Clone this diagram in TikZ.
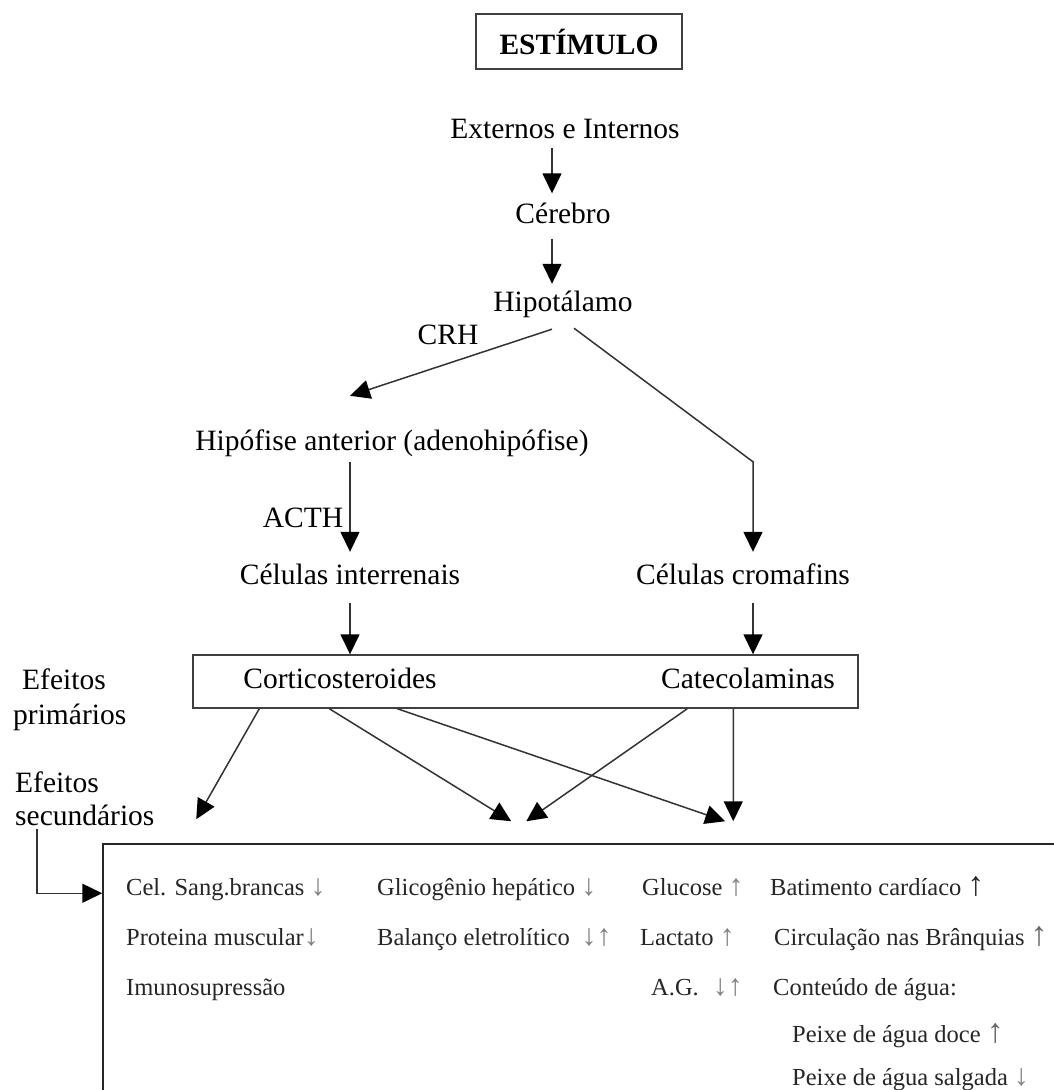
\documentclass[tikz,border=0pt]{standalone}
\usepackage{fontspec}
\setmainfont{Liberation Serif}
\usetikzlibrary{arrows.meta,calc}
\newcommand{\dnar}{{\fontsize{30}{30}\selectfont\textcolor{black!50}{↓}}}
\newcommand{\upar}{{\fontsize{30}{30}\selectfont\textcolor{black!50}{↑}}}
\newcommand{\bigupar}{{\fontsize{34}{34}\selectfont\textcolor{black!85}{↑}}}
\newcommand{\bigupg}{{\fontsize{34}{34}\selectfont\textcolor{black!60}{↑}}}
\begin{document}
\begin{tikzpicture}[x=1pt,y=-1pt,
  txt/.style={font=\fontsize{29.5}{34}\selectfont, inner sep=0pt, text height=20pt, text depth=6pt},
  sm/.style={font=\fontsize{24.5}{28}\selectfont, text=black!85, inner sep=0pt, anchor=base west},
  boxed/.style={draw=black!75, line width=1.4pt, inner sep=0pt},
  arr/.style={draw=black!80, line width=1.5pt, -{Triangle[length=20pt,width=19pt,color=black]}}]
\useasboundingbox (0,0) rectangle (1054,1090);
\clip (0,0) rectangle (1054,1090);
\fill[white] (0,0) rectangle (1054,1090);

% top part
\node[boxed, minimum width=206pt, minimum height=55pt, font=\fontsize{29.5}{34}\selectfont\bfseries] (estim) at (579,41.5) {ESTÍMULO};
\node[txt, inner ysep=4pt] (ext) at (565,131) {Externos e Internos};
\node[txt, inner ysep=9.5pt] (cer) at (563,216) {Cérebro};
\node[txt, inner ysep=7pt] (hipo) at (563,304) {Hipotálamo};
\node[txt] (crh) at (448,337) {CRH};
\node[txt, inner ysep=4pt] (hipof) at (392,443) {Hipófise anterior (adenohipófise)};
\node[txt] (acth) at (303,520) {ACTH};
\node[txt, inner ysep=4pt] (inter) at (350,577) {Células interrenais};
\node[txt, inner ysep=4pt] (croma) at (743,577) {Células cromafins};

% primary effects box
\node[boxed, minimum width=665pt, minimum height=53pt] (prim) at (525.5,681.5) {};
\node[txt] (cort) at (340,681) {Corticosteroides};
\node[txt] (cate) at (748,681) {Catecolaminas};
\node[txt, anchor=west] (efp1) at (22,682) {Efeitos};
\node[txt, anchor=west] (efp2) at (13,717) {primários};
\node[txt, anchor=west] (efs1) at (15,785) {Efeitos};
\node[txt, anchor=west] (efs2) at (15,818) {secundários};

% secondary effects box
\node[draw=black!85, line width=1.5pt, inner sep=0pt, minimum width=967pt, minimum height=256pt] (sec) at (586.5,972) {};

% arrows
\draw[arr] ($(ext.south)+(-13,0)$) -- ($(cer.north)+(-11,0)$);
\draw[arr] ($(cer.south)+(-11,0)$) -- ($(hipo.north)+(-11,0)$);
\draw[arr] ($(hipo.south)+(-11,5)$) -- ($(hipof.north)+(-42,-30)$);
\draw[arr] ($(hipo.south)+(11,4)$) -- ($(croma.north)+(10,-98)$) -- ($(croma.north)+(10,-8)$);
\draw[arr] ($(hipof.south)+(-42,2)$) -- ($(inter.north)+(0,-8)$);
\draw[arr] ($(inter.south)+(0,9)$) -- (inter.south |- prim.north);
\draw[arr] ($(croma.south)+(10,9)$) -- ($(croma.south |- prim.north)+(10,0)$);

\draw[arr] ($(prim.south west)+(67,0)$) -- ($(sec.north west)+(94,-24)$);
\draw[arr] ($(prim.south west)+(137,0)$) -- ($(sec.north west)+(409,-22)$);
\draw[arr] ($(prim.south west)+(205,0)$) -- ($(sec.north west)+(623,-22)$);
\draw[arr] ($(prim.south west)+(495,0)$) -- ($(sec.north west)+(424,-22)$);
\draw[arr] ($(prim.south west)+(541,0)$) -- ($(sec.north west)+(631,-22)$);

\draw[arr] ($(efs2.south west)+(22,-2)$) |- ($(sec.north west)+(0,50)$);

% secondary effects text
\node[sm] (r1a) at (126,895) {Cel. Sang.brancas \dnar};
\node[sm] (r1b) at (377,895) {Glicogênio hepático \dnar};
\node[sm] (r1c) at (642,895) {Glucose \upar};
\node[sm] (r1d) at (770,895) {Batimento cardíaco \bigupar};
\node[sm] (r2a) at (126,945) {Proteina muscular\dnar};
\node[sm] (r2b) at (377,945) {Balanço eletrolítico\hspace{12pt}\dnar\upar};
\node[sm] (r2c) at (640,945) {Lactato \upar};
\node[sm] (r2d) at (774,945) {Circulação nas Brânquias \bigupg};
\node[sm] (r3a) at (126,995) {Imunosupressão};
\node[sm] (r3c) at (651,995) {A.G.\hspace{14pt}\dnar\upar};
\node[sm] (r3d) at (773,995) {Conteúdo de água:};
\node[sm] (r4d) at (792,1042) {Peixe de água doce \bigupg};
\node[sm] (r5d) at (792,1085) {Peixe de água salgada \dnar};
\end{tikzpicture}
\end{document}
